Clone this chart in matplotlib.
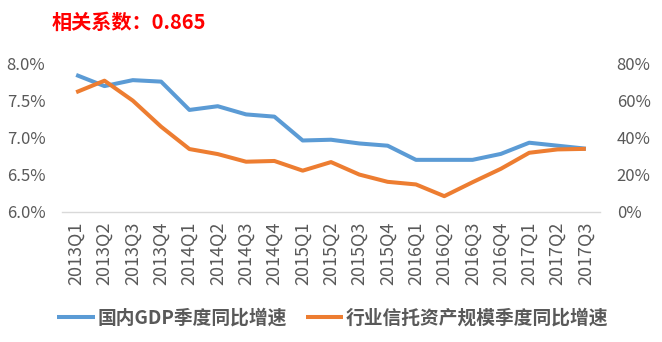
import numpy as np
import matplotlib.pyplot as plt
from matplotlib.ticker import FuncFormatter

plt.rcParams['font.family'] = ['Noto Sans CJK SC', 'DejaVu Sans']

quarters = ['2013Q1', '2013Q2', '2013Q3', '2013Q4',
            '2014Q1', '2014Q2', '2014Q3', '2014Q4',
            '2015Q1', '2015Q2', '2015Q3', '2015Q4',
            '2016Q1', '2016Q2', '2016Q3', '2016Q4',
            '2017Q1', '2017Q2', '2017Q3']
gdp = [7.84, 7.69, 7.77, 7.75, 7.37, 7.42, 7.31, 7.28, 6.96, 6.97,
       6.92, 6.89, 6.70, 6.70, 6.70, 6.78, 6.93, 6.89, 6.85]
trust = [64.3, 70.5, 59.8, 45.8, 33.8, 31.1, 27.0, 27.4, 22.2, 26.8,
         20.1, 16.2, 14.8, 8.5, 16.0, 23.2, 31.8, 33.6, 33.9]

label_gdp = '国内GDP季度同比增速'
label_trust = '行业信托资产规模季度同比增速'
title = '相关系数：0.865'

blue = '#5B9BD5'
orange = '#ED7D31'
grey = '#595959'

fig = plt.figure(figsize=(6.62, 3.42), dpi=100)
ax = fig.add_axes([62/662, 130/342, 538/662, 149/342])
ax2 = ax.twinx()

x = np.arange(len(quarters))
l1, = ax.plot(x, gdp, color=blue, lw=2.9, solid_capstyle='butt', zorder=3)
l2, = ax2.plot(x, trust, color=orange, lw=2.9, solid_capstyle='butt', zorder=3)

ax.set_xlim(-0.5, len(quarters) - 0.5)
ax.set_ylim(6.0, 8.0)
ax.set_yticks([6.0, 6.5, 7.0, 7.5, 8.0])
ax.yaxis.set_major_formatter(FuncFormatter(lambda v, p: f'{v:.1f}%'))
ax2.set_ylim(0, 80)
ax2.set_yticks([0, 20, 40, 60, 80])
ax2.yaxis.set_major_formatter(FuncFormatter(lambda v, p: f'{v:.0f}%'))

ax.set_xticks(x)
ax.set_xticklabels(quarters, rotation=90)

for a in (ax, ax2):
    for s in a.spines.values():
        s.set_visible(False)
    a.tick_params(length=0, colors=grey, labelsize=12)
ax.spines['bottom'].set_visible(True)
ax.spines['bottom'].set_color('#D9D9D9')
ax.spines['bottom'].set_linewidth(1)
ax.tick_params(axis='y', pad=12)
ax.tick_params(axis='x', pad=7, labelsize=13)
ax2.tick_params(axis='y', pad=12)

fig.text(52/662, 1 - 22/342, title, color='red', fontsize=14.5,
         fontweight='bold', va='center', ha='left')

fig.legend([l1, l2], [label_gdp, label_trust], ncol=2, frameon=False,
           loc='center', bbox_to_anchor=(333/662, 1 - 318/342),
           handlelength=2.0, handletextpad=0.15,
           columnspacing=1.0, labelcolor=grey,
           prop={'weight': 'bold', 'size': 13.5})

fig.savefig('out.png', dpi=100)
